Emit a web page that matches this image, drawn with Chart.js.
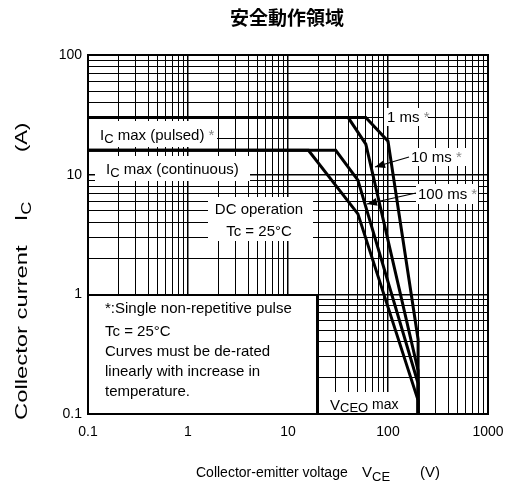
<!DOCTYPE html>
<html>
<head>
<meta charset="utf-8">
<script src="https://cdn.jsdelivr.net/npm/chart.js@4.4.1/dist/chart.umd.min.js"></script>
<style>
  html, body { margin: 0; padding: 0; background: #fff; overflow: hidden; }
  #wrap { width: 506px; height: 488px; }
  canvas { display: block; }
</style>
</head>
<body>
<div id="wrap"><canvas id="soaChart"></canvas></div>
<script>
// Curvas SOA (VCE em V, IC em A)
const vceDC = [0.1, 16, 50, 200, 200];
const icDC = [16, 16, 4.7, 0.13, 0.1];
const vce100ms = [0.1, 30, 50, 200, 200];
const ic100ms = [16, 16, 9, 0.18, 0.1];
const vce10ms = [0.1, 40, 60, 200, 200];
const ic10ms = [30, 30, 18, 0.23, 0.1];
const vce1ms = [0.1, 60, 100, 200, 200];
const ic1ms = [30, 30, 19, 0.42, 0.1];

// Eixos
const xLabels = [0.1, 1, 10, 100, 1000];
const yLabels = [0.1, 1, 10, 100];
const mantissas = [1, 2, 3, 4, 5, 6, 7, 8, 9];

const FONT = '"Liberation Sans", Arial, sans-serif';

function toPoints(xs, ys) {
  return xs.map((x, i) => ({ x: x, y: ys[i] }));
}

function gridValues(labels) {
  const out = [];
  for (let i = 0; i < labels.length - 1; i++) {
    mantissas.forEach((m) => out.push(Number((m * labels[i]).toPrecision(6))));
  }
  out.push(labels[labels.length - 1]);
  return out;
}

function isDecade(v, labels) {
  return labels.some((l) => Math.abs(l - v) < 1e-9);
}

// texto com subscritos
function drawParts(ctx, x, y, parts, align) {
  let total = 0;
  parts.forEach((p) => {
    ctx.font = (p.bold ? "bold " : "") + p.size + "px " + (p.family || FONT);
    total += ctx.measureText(p.text).width;
  });
  let cx = align === "center" ? x - total / 2 : x;
  parts.forEach((p) => {
    ctx.font = (p.bold ? "bold " : "") + p.size + "px " + (p.family || FONT);
    ctx.fillStyle = p.color || "#000";
    ctx.textAlign = "left";
    ctx.textBaseline = "alphabetic";
    ctx.fillText(p.text, cx, y + (p.dy || 0));
    cx += ctx.measureText(p.text).width;
  });
}

// texto esticado na direção da escrita
function drawScaled(ctx, x, y, sx, parts) {
  ctx.save();
  ctx.translate(x, y);
  ctx.scale(sx, 1);
  drawParts(ctx, 0, 0, parts);
  ctx.restore();
}

function whiteBox(ctx, x0, y0, x1, y1) {
  ctx.fillStyle = "#fff";
  ctx.fillRect(x0, y0, x1 - x0, y1 - y0);
}

function arrow(ctx, x0, y0, x1, y1) {
  ctx.save();
  ctx.strokeStyle = "#000";
  ctx.fillStyle = "#000";
  ctx.lineWidth = 1.2;
  ctx.beginPath();
  ctx.moveTo(x0, y0);
  ctx.lineTo(x1, y1);
  ctx.stroke();
  const a = Math.atan2(y1 - y0, x1 - x0);
  const len = 10, w = 4;
  ctx.beginPath();
  ctx.moveTo(x1, y1);
  ctx.lineTo(x1 - len * Math.cos(a) + w * Math.sin(a), y1 - len * Math.sin(a) - w * Math.cos(a));
  ctx.lineTo(x1 - len * Math.cos(a) - w * Math.sin(a), y1 - len * Math.sin(a) + w * Math.cos(a));
  ctx.closePath();
  ctx.fill();
  ctx.restore();
}

// Rótulos, caixas e títulos
const labelsPlugin = {
  id: "soaLabels",
  beforeDatasetsDraw(chart) {
    const ctx = chart.ctx;
    ctx.save();
    whiteBox(ctx, 89, 121, 217, 147);
    whiteBox(ctx, 95, 156, 250, 181);
    whiteBox(ctx, 208, 197, 313, 241);
    whiteBox(ctx, 384, 108, 428, 126);
    whiteBox(ctx, 408, 148, 470, 166);
    whiteBox(ctx, 416, 184, 478, 204);
    whiteBox(ctx, 326, 392, 413, 413);
    whiteBox(ctx, 88, 295, 317, 414);
    ctx.strokeStyle = "#000";
    ctx.lineWidth = 2;
    ctx.strokeRect(88, 295, 229, 119);

    const s = 15;
    drawParts(ctx, 100, 140, [
      { text: "I", size: s },
      { text: "C", size: 13, dy: 3 },
      { text: " max (pulsed) ", size: s },
      { text: "*", size: s, color: "#888" },
    ]);
    drawParts(ctx, 106, 174, [
      { text: "I", size: s },
      { text: "C", size: 13, dy: 3 },
      { text: " max (continuous)", size: s },
    ]);
    drawParts(ctx, 259, 214, [{ text: "DC operation", size: s }], "center");
    drawParts(ctx, 259, 236, [{ text: "Tc = 25°C", size: s }], "center");
    drawParts(ctx, 387, 122, [
      { text: "1 ms ", size: s },
      { text: "*", size: s, color: "#888" },
    ]);
    drawParts(ctx, 411, 162, [
      { text: "10 ms ", size: s },
      { text: "*", size: s, color: "#888" },
    ]);
    drawParts(ctx, 418, 199, [
      { text: "100 ms ", size: s },
      { text: "*", size: s, color: "#888" },
    ]);
    drawParts(ctx, 330, 410, [
      { text: "V", size: s },
      { text: "CEO", size: 13, dy: 2 },
      { text: " max", size: 14, dy: -1 },
    ]);

    const notes = [
      "*:Single non-repetitive pulse",
      "Tc = 25°C",
      "Curves must be de-rated",
      "linearly with increase in",
      "temperature.",
    ];
    const noteY = [313, 336, 356, 376, 396];
    notes.forEach((t, i) => drawParts(ctx, 105, noteY[i], [{ text: t, size: 15 }]));
    ctx.restore();
  },
  afterDatasetsDraw(chart) {
    const ctx = chart.ctx;
    const a = chart.chartArea;
    ctx.save();
    arrow(ctx, 409, 157, 375, 167);
    arrow(ctx, 416, 193, 367, 204);
    ctx.strokeStyle = "#000";
    ctx.lineWidth = 2;
    ctx.strokeRect(a.left, a.top, a.right - a.left, a.bottom - a.top);

    // títulos
    drawParts(ctx, 287, 25, [
      { text: "安全動作領域", size: 19, bold: true, family: '"Noto Sans CJK JP", sans-serif' },
    ], "center");

    // eixo x
    drawParts(ctx, 196, 477, [{ text: "Collector-emitter voltage", size: 14 }]);
    drawParts(ctx, 362, 477, [
      { text: "V", size: 15 },
      { text: "CE", size: 13, dy: 4 },
    ]);
    drawParts(ctx, 420, 477, [{ text: "(V)", size: 15 }]);

    // eixo y
    ctx.translate(27, 0);
    ctx.rotate(-Math.PI / 2);
    drawScaled(ctx, -420, 0, 1.4, [{ text: "Collector current", size: 17 }]);
    drawScaled(ctx, -221, 0, 1.3, [
      { text: "I", size: 17 },
      { text: "C", size: 14, dy: 4 },
    ]);
    drawScaled(ctx, -152, 0, 1.3, [{ text: "(A)", size: 17 }]);
    ctx.restore();
  },
};

const ctx = document.getElementById("soaChart").getContext("2d");

const curve = (xs, ys) => ({
  data: toPoints(xs, ys),
  borderColor: "#000",
  borderWidth: 3,
  pointRadius: 0,
  tension: 0,
  fill: false,
});

new Chart(ctx, {
  type: "line",
  data: {
    datasets: [
      curve(vceDC, icDC),
      curve(vce100ms, ic100ms),
      curve(vce10ms, ic10ms),
      curve(vce1ms, ic1ms),
    ],
  },
  options: {
    responsive: true,
    maintainAspectRatio: false,
    animation: false,
    layout: { padding: { top: 55, right: 18, left: 0, bottom: 0 } },
    plugins: {
      legend: { display: false },
      tooltip: { enabled: false },
    },
    scales: {
      x: {
        type: "logarithmic",
        min: 0.1,
        max: 1000,
        afterBuildTicks: (scale) => {
          scale.ticks = gridValues(xLabels).map((v) => ({ value: v }));
        },
        afterFit: (scale) => {
          scale.height = 74;
          scale.paddingLeft = 0;
          scale.paddingRight = 0;
        },
        grid: {
          color: "#000",
          lineWidth: (c) => (isDecade(c.tick.value, xLabels) ? 1.5 : 1),
          drawTicks: false,
        },
        border: { display: false },
        ticks: {
          autoSkip: false,
          maxRotation: 0,
          padding: 10,
          color: "#000",
          font: { family: FONT, size: 14 },
          callback: (v) => (isDecade(v, xLabels) ? String(v) : ""),
        },
      },
      y: {
        type: "logarithmic",
        min: 0.1,
        max: 100,
        afterBuildTicks: (scale) => {
          scale.ticks = gridValues(yLabels).map((v) => ({ value: v }));
        },
        afterFit: (scale) => { scale.width = 88; },
        grid: {
          color: "#000",
          lineWidth: (c) => (isDecade(c.tick.value, yLabels) ? 1.5 : 1),
          drawTicks: false,
        },
        border: { display: false },
        ticks: {
          autoSkip: false,
          padding: 6,
          color: "#000",
          font: { family: FONT, size: 14 },
          callback: (v) => (isDecade(v, yLabels) ? String(v) : ""),
        },
      },
    },
  },
  plugins: [labelsPlugin],
});
</script>
</body>
</html>
